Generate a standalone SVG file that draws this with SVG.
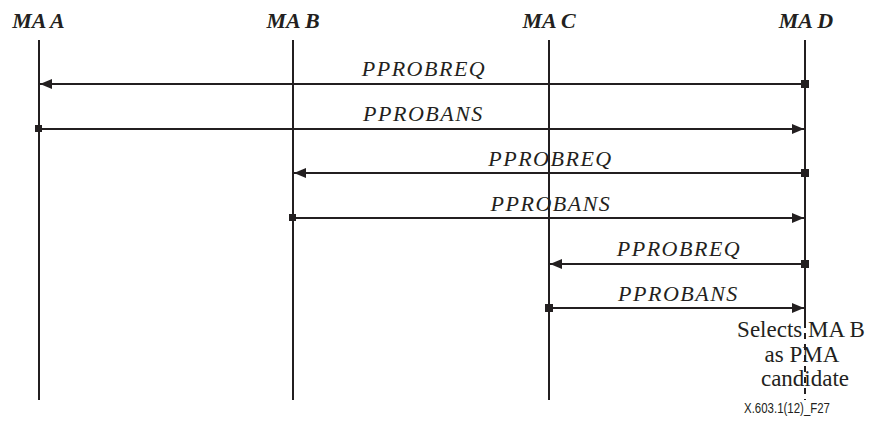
<svg xmlns="http://www.w3.org/2000/svg" width="870" height="426" viewBox="0 0 870 426">
<style>
.life{stroke:#231f20;stroke-width:2;fill:none}
.msg{stroke:#231f20;stroke-width:2;fill:none}
.sq{fill:#231f20;stroke:none}
.hdr{font-family:"Liberation Serif",serif;font-size:22px;font-weight:bold;font-style:italic;fill:#231f20;text-anchor:middle}
.lbl{font-family:"Liberation Serif",serif;font-size:22px;font-style:italic;letter-spacing:1.5px;fill:#231f20;text-anchor:middle}
.note{font-family:"Liberation Serif",serif;font-size:23px;fill:#231f20;text-anchor:middle}
.foot{font-family:"Liberation Sans",sans-serif;font-size:14px;fill:#231f20;text-anchor:middle}
</style>
<defs>
<marker id="ah" viewBox="0 0 12 10" refX="12" refY="5" markerWidth="12" markerHeight="10" markerUnits="userSpaceOnUse" orient="auto">
<path d="M0,0 L12,5 L0,10 Z" fill="#231f20"/>
</marker>
</defs>
<g id="ma-a"><text class="hdr" x="38.5" y="28">MA A</text><line class="life" x1="39" y1="40" x2="39" y2="400"/></g>
<g id="ma-b"><text class="hdr" x="293" y="28">MA B</text><line class="life" x1="293" y1="40" x2="293" y2="400"/></g>
<g id="ma-c"><text class="hdr" x="549" y="28">MA C</text><line class="life" x1="549" y1="40" x2="549" y2="400"/></g>
<g id="ma-d"><text class="hdr" x="806" y="28">MA D</text><line class="life" x1="805" y1="40" x2="805" y2="322"/><line class="life" x1="805" y1="322" x2="805" y2="400" stroke-dasharray="6,5"/></g>
<g id="connectors">
<line class="msg" x1="805" y1="84" x2="40" y2="84" marker-end="url(#ah)"/>
<rect class="sq" x="801" y="80" width="8" height="8"/>
<line class="msg" x1="39" y1="129" x2="804" y2="129" marker-end="url(#ah)"/>
<rect class="sq" x="35" y="125" width="7" height="7"/>
<line class="msg" x1="805" y1="173" x2="294" y2="173" marker-end="url(#ah)"/>
<rect class="sq" x="801" y="169" width="8" height="8"/>
<line class="msg" x1="293" y1="218" x2="804" y2="218" marker-end="url(#ah)"/>
<rect class="sq" x="289" y="214" width="7" height="7"/>
<line class="msg" x1="805" y1="264" x2="550" y2="264" marker-end="url(#ah)"/>
<rect class="sq" x="801" y="260" width="8" height="8"/>
<line class="msg" x1="549" y1="308" x2="804" y2="308" marker-end="url(#ah)"/>
<rect class="sq" x="545" y="304" width="8" height="8"/>
</g>
<g id="labels">
<text class="lbl" x="424" y="76">PPROBREQ</text>
<text class="lbl" x="423.5" y="121">PPROBANS</text>
<text class="lbl" x="550.5" y="166">PPROBREQ</text>
<text class="lbl" x="551" y="211">PPROBANS</text>
<text class="lbl" x="679" y="256">PPROBREQ</text>
<text class="lbl" x="678.5" y="301">PPROBANS</text>
</g>
<g id="note">
<text class="note" x="801" y="337">Selects MA B</text>
<text class="note" x="802" y="362">as PMA</text>
<text class="note" x="805" y="386">candidate</text>
</g>
<text class="foot" x="787" y="413" textLength="86" lengthAdjust="spacingAndGlyphs">X.603.1(12)_F27</text>
</svg>
